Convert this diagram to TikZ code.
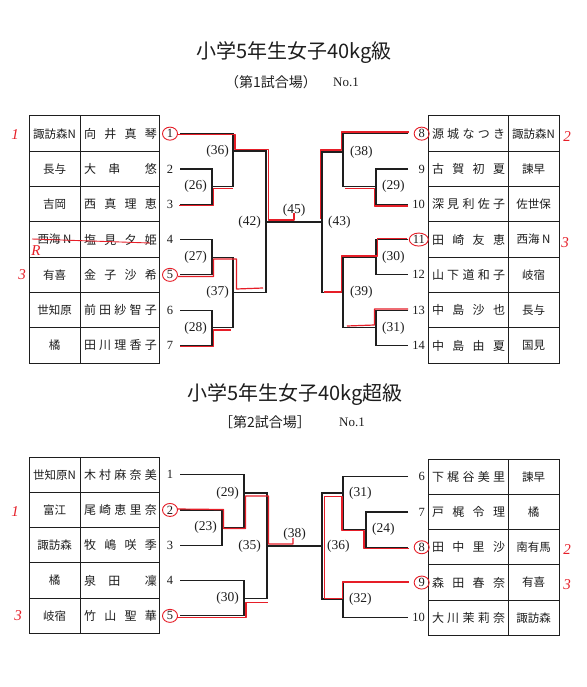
\documentclass[tikz,border=0pt]{standalone}
\usepackage{fontspec}
\setmainfont{Liberation Serif}
\newfontfamily\jp{Noto Sans CJK JP}
\usetikzlibrary{positioning}

\definecolor{ink}{HTML}{1E1E1E}
\definecolor{pen}{HTML}{E61E28}

\newcommand{\spread}[1]{\makebox[73pt][s]{#1}}

\tikzset{
  bracket/.style={draw=ink, line width=1.2pt},
  grid/.style={draw=ink, line width=1pt},
  seed/.style={inner sep=0pt, text=ink, font=\fontsize{12.5}{12.5}\selectfont},
  round/.style={inner sep=0pt, text=ink, font=\fontsize{13.5}{13.5}\selectfont},
  player/.style={inner sep=0pt, text=ink, font=\jp\fontsize{12}{12}\selectfont},
  school/.style={inner sep=0pt, text=ink, font=\jp\fontsize{11.5}{11.5}\selectfont},
  title/.style={inner sep=0pt, text=ink, font=\jp\fontsize{20}{20}\selectfont},
  venue/.style={inner sep=0pt, text=ink, font=\jp\fontsize{14}{14}\selectfont},
  winner/.style={draw=pen, line width=1.2pt, line join=round},
  ring/.style={draw=pen, line width=0.9pt},
  hand/.style={inner sep=0pt, text=pen, font=\itshape\fontsize{15}{15}\selectfont},
}

\begin{document}
\begin{tikzpicture}[x=1pt,y=-1pt]
  \useasboundingbox (0,0) rectangle (586,687);
  \fill[white] (0,0) rectangle (586,687);

  % titles
  \node[title] (title1) at (294,53) {小学5年生女子40kg級};
  \node[venue] (venue1) at (271,82) {（第1試合場）};
  \node[seed, font=\fontsize{13}{13}\selectfont] (no1) at (346,82) {No.1};
  \node[title] (title2) at (295,395) {小学5年生女子40kg超級};
  \node[venue] (venue2) at (265,422) {［第2試合場］};
  \node[seed, font=\fontsize{13}{13}\selectfont] (no2) at (352,422) {No.1};

  \coordinate (lx) at (180,0);
  \coordinate (rx) at (408,0);

  % upper tables
  \draw[grid] (29,116) rectangle (159,363.1);
  \draw[grid] (80,116) -- (80,363.1);
  \draw[grid] (428,116) rectangle (559,363.1);
  \draw[grid] (508,116) -- (508,363.1);
  \foreach \k in {1,...,6} {
    \draw[grid] (29,116+35.3*\k) -- (159,116+35.3*\k);
    \draw[grid] (428,116+35.3*\k) -- (559,116+35.3*\k);
  }
  \foreach \s/\n [count=\i] in {
      {諏訪森N}/{向\hfill 井\hfill 真\hfill 琴},
      {長与}/{大\hfill 串\hfill\hfill 悠},
      {吉岡}/{西\hfill 真\hfill 理\hfill 恵},
      {西海 N}/{塩\hfill 見\hfill 夕\hfill 姫},
      {有喜}/{金\hfill 子\hfill 沙\hfill 希},
      {世知原}/{前\hfill 田\hfill 紗\hfill 智\hfill 子},
      {橘}/{田\hfill 川\hfill 理\hfill 香\hfill 子}} {
    \node[school] (ls\i) at (54.5,98.35+35.3*\i) {\s};
    \node[player] (lp\i) at (120.5,98.35+35.3*\i) {\spread{\n}};
    \node[seed] (ln\i) at (170,98.35+35.3*\i) {\i};
  }
  \foreach \n/\s [count=\i from 8] in {
      {源\hfill 城\hfill な\hfill つ\hfill き}/{諏訪森N},
      {古\hfill 賀\hfill 初\hfill 夏}/{諫早},
      {深\hfill 見\hfill 利\hfill 佐\hfill 子}/{佐世保},
      {田\hfill 崎\hfill 友\hfill 恵}/{西海 N},
      {山\hfill 下\hfill 道\hfill 和\hfill 子}/{岐宿},
      {中\hfill 島\hfill 沙\hfill 也}/{長与},
      {中\hfill 島\hfill 由\hfill 夏}/{国見}} {
    \node[player] (rp\i) at (468.5,{98.35+35.3*(\i-7)}) {\spread{\n}};
    \node[school] (rs\i) at (533.5,{98.35+35.3*(\i-7)}) {\s};
    \node[seed, anchor=east] (rn\i) at (425,{98.35+35.3*(\i-7)}) {\i};
  }

  % upper bracket
  \coordinate (m26) at (212,186.6);
  \coordinate (m27) at (212,257.2);
  \coordinate (m28) at (212,327.8);
  \coordinate (m36) at (233,151);
  \coordinate (m37) at (233,292.5);
  \coordinate (m42) at (266,222);
  \coordinate (m29) at (376,186.6);
  \coordinate (m30) at (376,257.2);
  \coordinate (m31) at (376,327.8);
  \coordinate (m38) at (343,152);
  \coordinate (m39) at (343,292.5);
  \coordinate (m43) at (322,222);

  \draw[bracket] (ln2 -| lx) -| (m26) |- (ln3 -| lx);
  \draw[bracket] (ln4 -| lx) -| (m27) |- (ln5 -| lx);
  \draw[bracket] (ln6 -| lx) -| (m28) |- (ln7 -| lx);
  \draw[bracket] (ln1 -| lx) -| (m36) |- (m26);
  \draw[bracket] (m27) -| (m37) |- (m28);
  \draw[bracket] (m36) -| (m42) |- (m37);
  \draw[bracket] (rn9 -| rx) -| (m29) |- (rn10 -| rx);
  \draw[bracket] (rn11 -| rx) -| (m30) |- (rn12 -| rx);
  \draw[bracket] (rn13 -| rx) -| (m31) |- (rn14 -| rx);
  \draw[bracket] (rn8 -| rx) -| (m38) |- (m29);
  \draw[bracket] (m30) -| (m39) |- (m31);
  \draw[bracket] (m38) -| (m43) |- (m39);
  \draw[bracket] (m42) -- node[round, above=5pt] (r45) {(45)} (m43);

  \node[round, left=5pt of m26] (r26) {(26)};
  \node[round, left=5pt of m27] (r27) {(27)};
  \node[round, left=5pt of m28] (r28) {(28)};
  \node[round, left=4pt of m36] (r36) {(36)};
  \node[round, left=4pt of m37] (r37) {(37)};
  \node[round, left=5pt of m42] (r42) {(42)};
  \node[round, right=6pt of m29] (r29) {(29)};
  \node[round, right=6pt of m30] (r30) {(30)};
  \node[round, right=6pt of m31] (r31) {(31)};
  \node[round, right=7pt of m38] (r38) {(38)};
  \node[round, right=7pt of m39] (r39) {(39)};
  \node[round, right=6pt of m43] (r43) {(43)};

  % lower tables
  \draw[grid] (29,457) rectangle (159,633.5);
  \draw[grid] (80,457) -- (80,633.5);
  \draw[grid] (428,459) rectangle (559,635.5);
  \draw[grid] (508,459) -- (508,635.5);
  \foreach \k in {1,...,4} {
    \draw[grid] (29,457+35.3*\k) -- (159,457+35.3*\k);
    \draw[grid] (428,459+35.3*\k) -- (559,459+35.3*\k);
  }
  \foreach \s/\n [count=\i] in {
      {世知原N}/{木\hfill 村\hfill 麻\hfill 奈\hfill 美},
      {富江}/{尾\hfill 崎\hfill 恵\hfill 里\hfill 奈},
      {諏訪森}/{牧\hfill 嶋\hfill 咲\hfill 季},
      {橘}/{泉\hfill 田\hfill\hfill 凜},
      {岐宿}/{竹\hfill 山\hfill 聖\hfill 華}} {
    \node[school] (bls\i) at (54.5,439.35+35.3*\i) {\s};
    \node[player] (blp\i) at (120.5,439.35+35.3*\i) {\spread{\n}};
    \node[seed] (bln\i) at (170,439.35+35.3*\i) {\i};
  }
  \foreach \n/\s [count=\i from 6] in {
      {下\hfill 梶\hfill 谷\hfill 美\hfill 里}/{諫早},
      {戸\hfill 梶\hfill 令\hfill 理}/{橘},
      {田\hfill 中\hfill 里\hfill 沙}/{南有馬},
      {森\hfill 田\hfill 春\hfill 奈}/{有喜},
      {大\hfill 川\hfill 茉\hfill 莉\hfill 奈}/{諏訪森}} {
    \node[player] (brp\i) at (468.5,{476.65+35.3*(\i-6)}) {\spread{\n}};
    \node[school] (brs\i) at (533.5,{476.65+35.3*(\i-6)}) {\s};
    \node[seed, anchor=east] (brn\i) at (425,{476.65+35.3*(\i-6)}) {\i};
  }

  % lower bracket
  \coordinate (b23) at (222,527.6);
  \coordinate (b29) at (244,493);
  \coordinate (b30) at (244,598.2);
  \coordinate (b35) at (267,546);
  \coordinate (b24) at (366,529.6);
  \coordinate (b31) at (343,493);
  \coordinate (b32) at (343,599);
  \coordinate (b36) at (322,546);

  \draw[bracket] (bln2 -| lx) -| (b23) |- (bln3 -| lx);
  \draw[bracket] (bln1 -| lx) -| (b29) |- (b23);
  \draw[bracket] (bln4 -| lx) -| (b30) |- (bln5 -| lx);
  \draw[bracket] (b29) -| (b35) |- (b30);
  \draw[bracket] (brn7 -| rx) -| (b24) |- (brn8 -| rx);
  \draw[bracket] (brn6 -| rx) -| (b31) |- (b24);
  \draw[bracket] (brn9 -| rx) -| (b32) |- (brn10 -| rx);
  \draw[bracket] (b31) -| (b36) |- (b32);
  \draw[bracket] (b35) -- node[round, above=5pt] (s38) {(38)} (b36);

  \node[round, left=5pt of b23] (s23) {(23)};
  \node[round, left=5pt of b29] (s29) {(29)};
  \node[round, left=5pt of b30] (s30) {(30)};
  \node[round, left=6pt of b35] (s35) {(35)};
  \node[round, right=6pt of b24] (s24) {(24)};
  \node[round, right=6pt of b31] (s31) {(31)};
  \node[round, right=6pt of b32] (s32) {(32)};
  \node[round, right=5pt of b36] (s36) {(36)};

  % red pen marks
  \draw[winner] (177,134.5) -- (235,134.5) -- (235,149.5) -- (268.5,149.5) -- (268.5,220) -- (294,220) -- (294,213);
  \draw[winner] (179,205.5) -- (213.5,205.5) -- (213.5,188.5) -- (233,188.5);
  \draw[winner] (178,276.5) -- (213.5,276.5) -- (213.5,259) -- (236.5,259) -- (236.5,289) -- (263,288);
  \draw[winner] (180,346.5) -- (213.5,346.5) -- (213.5,330) -- (231,330);
  \draw[winner] (409,132) -- (341.5,132) -- (341.5,150) -- (320.5,150) -- (320.5,219);
  \draw[winner] (408,206) -- (374.5,206) -- (374.5,188.5) -- (345,188.5);
  \draw[winner] (407,238.5) -- (377.5,238.5) -- (377.5,256) -- (341.5,256) -- (341.5,292) -- (324,292);
  \draw[winner] (408,309) -- (374.5,309) -- (374.5,325) -- (347,326);
  \draw[winner] (177,509) -- (223.5,509.5) -- (223.5,528.5) -- (245.5,528.5) -- (245.5,496) -- (268.5,496) -- (268.5,544) -- (293,544) -- (293,538);
  \draw[winner] (177,617.5) -- (246,617.5) -- (246,602.5) -- (268,602.5);
  \draw[winner] (409,548.5) -- (364,548.5) -- (364,530.5) -- (342,530.5) -- (342,496.5) -- (324.5,496.5) -- (324.5,598.5) -- (342.5,598.5) -- (342.5,582) -- (409,582);
  \draw[ring] (32,239) -- (150,243);

  \draw[ring] (ln1) ellipse [x radius=7.5, y radius=6.5];
  \draw[ring] (ln5) ellipse [x radius=7.5, y radius=6.5];
  \draw[ring] (rn8) ellipse [x radius=7.5, y radius=6.5];
  \draw[ring] (rn11) ellipse [x radius=9.5, y radius=6.5];
  \draw[ring] (bln2) ellipse [x radius=7.5, y radius=6.5];
  \draw[ring] (bln5) ellipse [x radius=7.5, y radius=6.5];
  \draw[ring] (brn8) ellipse [x radius=7.5, y radius=6.5];
  \draw[ring] (brn9) ellipse [x radius=7.5, y radius=6.5];

  \node[hand] (h1) at (15,135) {1};
  \node[hand] (hr) at (36,251) {R};
  \node[hand] (h3) at (22,275) {3};
  \node[hand] (h2) at (567,137) {2};
  \node[hand] (h3r) at (565,243) {3};
  \node[hand] (k1) at (15,512) {1};
  \node[hand] (k3) at (18,616) {3};
  \node[hand] (k2) at (567,550) {2};
  \node[hand] (k3r) at (567,585) {3};
\end{tikzpicture}
\end{document}
